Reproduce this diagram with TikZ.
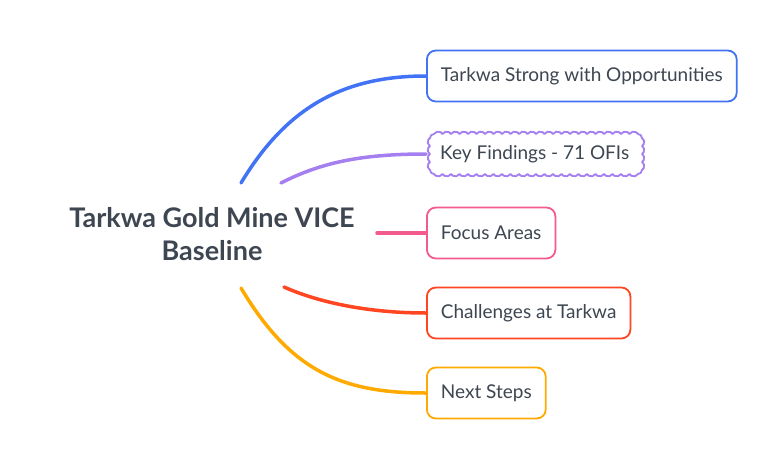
\documentclass[tikz,border=0pt]{standalone}
\usepackage{fontspec}
\setmainfont{Lato}
\usetikzlibrary{positioning}

\definecolor{txtgrey}{HTML}{3D4651}
\definecolor{brblue}{HTML}{4272F5}
\definecolor{brpurple}{HTML}{A57EEF}
\definecolor{brpink}{HTML}{F35A8F}
\definecolor{brred}{HTML}{FF4522}
\definecolor{brorange}{HTML}{FFAA00}

\tikzset{
  topic/.style={draw=#1, line width=1.8pt, rounded corners=9pt, fill=white,
    text=txtgrey, font=\fontsize{19}{22}\selectfont, anchor=west,
    minimum height=51pt, inner xsep=14pt},
  cloudbox/.style={text=txtgrey, font=\fontsize{19}{22}\selectfont,
    anchor=west, minimum height=48pt, inner xsep=14pt},
  cloudline/.style={draw=brpurple, line width=1.8pt, line join=round},
  branch/.style={line width=3.5pt, line cap=round}
}

\begin{document}
\begin{tikzpicture}[x=1pt,y=-1pt]
  \useasboundingbox (0,0) rectangle (784,471);

  % Root
  \node (root) [text=txtgrey, align=center,
    font=\bfseries\fontsize{27}{33}\selectfont] at (212,234)
    {Tarkwa Gold Mine VICE\\Baseline};

  % Topics
  \node (strong) [topic=brblue] at (426,76) {Tarkwa Strong with Opportunities};
  \node (key) [cloudbox] at (426,154) {Key Findings - 71 OFIs};
  \node (focus) [topic=brpink] at (426,233) {Focus Areas};
  \node (chall) [topic=brred] at (426,313) {Challenges at Tarkwa};
  \node (next) [topic=brorange] at (426,393) {Next Steps};

  % Cloud border
  \draw[cloudline] (434,134)
    \foreach \i in {1,...,24} { arc[start angle=150, end angle=30, radius=4.907pt] }
    arc[start angle=90, end angle=0, radius=4pt]
    \foreach \i in {1,...,4} { arc[start angle=60, end angle=-60, radius=4.619pt] }
    arc[start angle=0, end angle=-90, radius=4pt]
    \foreach \i in {1,...,24} { arc[start angle=-30, end angle=-150, radius=4.907pt] }
    arc[start angle=-90, end angle=-180, radius=4pt]
    \foreach \i in {1,...,4} { arc[start angle=240, end angle=120, radius=4.619pt] }
    arc[start angle=180, end angle=90, radius=4pt] -- cycle;

  % Branch starts
  \coordinate (s1) at (241,183);
  \coordinate (s2) at (281,183);
  \coordinate (s3) at (377,233);
  \coordinate (s4) at (284,287);
  \coordinate (s5) at (241,288);

  % Branches
  \draw[branch, brblue] (s1) .. controls (285,110) and (340,76) .. (strong.west);
  \draw[branch, brpurple] (s2) .. controls (320,163) and (360,154) .. (key.west);
  \draw[branch, brpink] (s3) -- (focus.west);
  \draw[branch, brred] (s4) .. controls (320,303) and (370,313) .. (chall.west);
  \draw[branch, brorange] (s5) .. controls (290,370) and (340,393) .. (next.west);
\end{tikzpicture}
\end{document}
